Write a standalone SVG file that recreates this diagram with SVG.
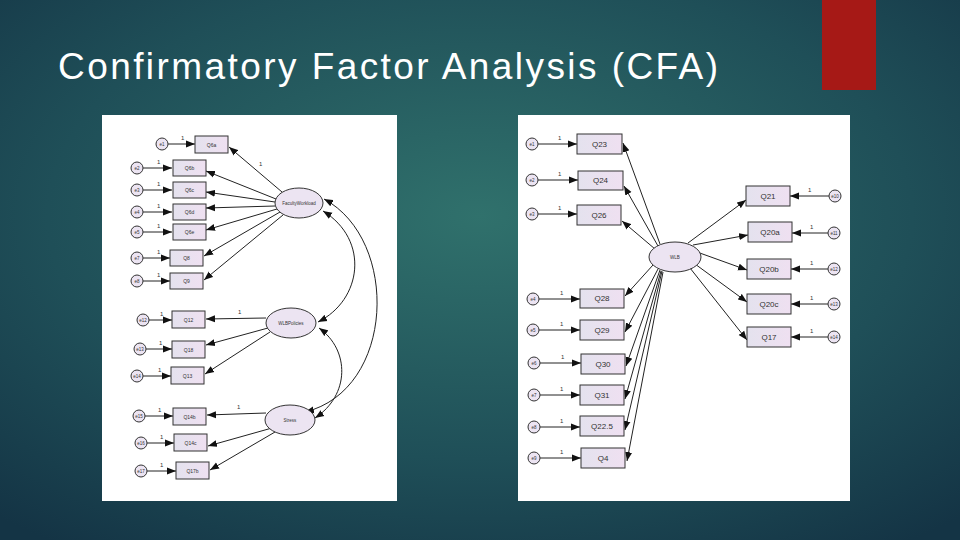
<svg xmlns="http://www.w3.org/2000/svg" width="960" height="540" viewBox="0 0 960 540">
<defs>
<radialGradient id="bg" cx="0.5" cy="0.4" r="0.75">
<stop offset="0" stop-color="#30716c"/>
<stop offset="0.6" stop-color="#1f4f58"/>
<stop offset="1" stop-color="#143445"/>
</radialGradient>
<linearGradient id="bx" x1="0" y1="0" x2="1" y2="0">
<stop offset="0" stop-color="#e4e2ee"/>
<stop offset="1" stop-color="#efe0f1"/>
</linearGradient>
<marker id="a" markerUnits="userSpaceOnUse" markerWidth="10" markerHeight="8" refX="9" refY="4" orient="auto-start-reverse">
<path d="M0,0.5 L9,4 L0,7.5 Z" fill="#111"/>
</marker>
</defs>
<style>
.t{font-family:"Liberation Sans",Arial,sans-serif;fill:#fff}
.b{fill:url(#bx);stroke:#333;stroke-width:1}
.e{fill:#ece4f2;stroke:#333;stroke-width:1}
.l{font-family:"Liberation Sans",Arial,sans-serif;fill:#333;text-anchor:middle;dominant-baseline:central}
.s{font-size:5px}.m{font-size:8px}.n{font-size:4.5px}
.c line,.c path{stroke:#222;stroke-width:1;fill:none;marker-end:url(#a)}
.c path.d{marker-start:url(#a)}
.o{font-family:"Liberation Sans",Arial,sans-serif;fill:#333;font-size:6px}
</style>
<rect width="960" height="540" fill="url(#bg)"/>
<rect x="822" y="0" width="54" height="90" fill="#a61916"/>
<text class="t" x="58" y="79" font-size="37" textLength="660" lengthAdjust="spacing">Confirmatory Factor Analysis (CFA)</text>
<rect x="102" y="115" width="295" height="386" fill="#fff"/>
<rect x="518" y="115" width="332" height="386" fill="#fff"/>

<g class="c" id="connectors">
<line x1="168" y1="144" x2="195" y2="144"/>
<line x1="143" y1="168" x2="172" y2="168"/>
<line x1="143" y1="190" x2="172" y2="190"/>
<line x1="143" y1="212" x2="172" y2="212"/>
<line x1="143" y1="232" x2="172" y2="232"/>
<line x1="143" y1="258" x2="170" y2="258"/>
<line x1="143" y1="281" x2="170" y2="281"/>
<line x1="282" y1="192" x2="229" y2="147"/>
<line x1="276" y1="199" x2="206" y2="171"/>
<line x1="275" y1="202" x2="206" y2="192"/>
<line x1="275" y1="206" x2="206" y2="208"/>
<line x1="277" y1="209" x2="206" y2="230"/>
<line x1="280" y1="212" x2="204" y2="256"/>
<line x1="283" y1="215" x2="204" y2="280"/>
<line x1="149" y1="320" x2="172" y2="320"/>
<line x1="146" y1="349" x2="172" y2="349"/>
<line x1="143" y1="376" x2="171" y2="376"/>
<line x1="266" y1="318" x2="206" y2="319"/>
<line x1="268" y1="328" x2="206" y2="345"/>
<line x1="270" y1="332" x2="205" y2="374"/>
<line x1="145" y1="416" x2="173" y2="416"/>
<line x1="147" y1="443" x2="174" y2="443"/>
<line x1="147" y1="471" x2="176" y2="471"/>
<line x1="266" y1="413" x2="207" y2="415"/>
<line x1="272" y1="428" x2="208" y2="446"/>
<line x1="275" y1="432" x2="210" y2="470"/>
<path class="d" d="M324,199 C400,240 395,390 305,412"/>
<path class="d" d="M323,211 C370,240 362,300 318,322"/>
<path class="d" d="M319,328 C350,350 350,395 315,418"/>

<line x1="538" y1="144" x2="577" y2="144"/>
<line x1="538" y1="180" x2="578" y2="180"/>
<line x1="538" y1="214" x2="577" y2="214"/>
<line x1="538" y1="299" x2="580" y2="299"/>
<line x1="538" y1="330" x2="580" y2="330"/>
<line x1="540" y1="363" x2="581" y2="363"/>
<line x1="540" y1="395" x2="580" y2="395"/>
<line x1="540" y1="427" x2="580" y2="427"/>
<line x1="540" y1="458" x2="581" y2="458"/>
<line x1="829" y1="196" x2="790" y2="196"/>
<line x1="828" y1="233" x2="792" y2="233"/>
<line x1="828" y1="269" x2="791" y2="269"/>
<line x1="828" y1="304" x2="791" y2="304"/>
<line x1="828" y1="337" x2="791" y2="337"/>
<line x1="660" y1="244" x2="623" y2="143"/>
<line x1="658" y1="246" x2="624" y2="186"/>
<line x1="655" y1="249" x2="622" y2="221"/>
<line x1="653" y1="265" x2="625" y2="296"/>
<line x1="658" y1="269" x2="625" y2="332"/>
<line x1="660" y1="270" x2="626" y2="366"/>
<line x1="661" y1="271" x2="625" y2="399"/>
<line x1="662" y1="271" x2="625" y2="430"/>
<line x1="663" y1="272" x2="627" y2="461"/>
<line x1="688" y1="243" x2="746" y2="200"/>
<line x1="693" y1="245" x2="748" y2="235"/>
<line x1="697" y1="252" x2="747" y2="270"/>
<line x1="695" y1="264" x2="747" y2="302"/>
<line x1="690" y1="268" x2="747" y2="340"/>
</g>
<g class="o" id="loadings">
<text x="181" y="140">1</text><text x="157" y="164">1</text><text x="157" y="186">1</text><text x="157" y="208">1</text><text x="157" y="228">1</text><text x="157" y="254">1</text><text x="157" y="277">1</text>
<text x="259" y="166">1</text><text x="238" y="314">1</text><text x="160" y="316">1</text><text x="159" y="345">1</text><text x="158" y="372">1</text>
<text x="237" y="409">1</text><text x="158" y="412">1</text><text x="160" y="439">1</text><text x="160" y="467">1</text>
<text x="558" y="140">1</text><text x="558" y="176">1</text><text x="558" y="210">1</text><text x="560" y="295">1</text><text x="560" y="326">1</text><text x="561" y="359">1</text><text x="560" y="391">1</text><text x="560" y="423">1</text><text x="560" y="454">1</text>
<text x="808" y="192">1</text><text x="810" y="229">1</text><text x="810" y="265">1</text><text x="810" y="300">1</text><text x="810" y="333">1</text>
</g>

<g id="FacultyWorkload"><ellipse class="e" cx="299" cy="203" rx="24" ry="15"/><text class="l n" x="299" y="203">FacultyWorkload</text></g>
<g id="WLBPolicies"><ellipse class="e" cx="291" cy="323" rx="25" ry="15"/><text class="l n" x="291" y="323">WLBPolicies</text></g>
<g id="Stress"><ellipse class="e" cx="290" cy="420" rx="25" ry="15"/><text class="l n" x="290" y="420">Stress</text></g>
<g id="Q6a"><rect class="b" x="195" y="136" width="33" height="17"/><text class="l s" x="211.5" y="144.5">Q6a</text></g>
<g id="Q6b"><rect class="b" x="173" y="160" width="33" height="16"/><text class="l s" x="189.5" y="168">Q6b</text></g>
<g id="Q6c"><rect class="b" x="173" y="182" width="33" height="16"/><text class="l s" x="189.5" y="190">Q6c</text></g>
<g id="Q6d"><rect class="b" x="173" y="204" width="33" height="16"/><text class="l s" x="189.5" y="212">Q6d</text></g>
<g id="Q6e"><rect class="b" x="173" y="224" width="33" height="16"/><text class="l s" x="189.5" y="232">Q6e</text></g>
<g id="Q8"><rect class="b" x="170" y="250" width="33" height="16"/><text class="l s" x="186.5" y="258">Q8</text></g>
<g id="Q9"><rect class="b" x="170" y="273" width="33" height="16"/><text class="l s" x="186.5" y="281">Q9</text></g>
<g id="Q12"><rect class="b" x="172" y="311" width="33" height="17"/><text class="l s" x="188.5" y="319.5">Q12</text></g>
<g id="Q18"><rect class="b" x="172" y="341" width="33" height="17"/><text class="l s" x="188.5" y="349.5">Q18</text></g>
<g id="Q13"><rect class="b" x="171" y="367" width="33" height="17"/><text class="l s" x="187.5" y="375.5">Q13</text></g>
<g id="Q14b"><rect class="b" x="173" y="408" width="33" height="17"/><text class="l s" x="189.5" y="416.5">Q14b</text></g>
<g id="Q14c"><rect class="b" x="174" y="434" width="33" height="17"/><text class="l s" x="190.5" y="442.5">Q14c</text></g>
<g id="Q17b"><rect class="b" x="176" y="462" width="33" height="17"/><text class="l s" x="192.5" y="470.5">Q17b</text></g>
<g id="e1"><circle class="e" cx="162" cy="144" r="6"/><text class="l n" x="162" y="144">e1</text></g>
<g id="e2"><circle class="e" cx="137" cy="168" r="6"/><text class="l n" x="137" y="168">e2</text></g>
<g id="e3"><circle class="e" cx="137" cy="190" r="6"/><text class="l n" x="137" y="190">e3</text></g>
<g id="e4"><circle class="e" cx="137" cy="212" r="6"/><text class="l n" x="137" y="212">e4</text></g>
<g id="e5"><circle class="e" cx="137" cy="232" r="6"/><text class="l n" x="137" y="232">e5</text></g>
<g id="e7"><circle class="e" cx="137" cy="258" r="6"/><text class="l n" x="137" y="258">e7</text></g>
<g id="e8"><circle class="e" cx="137" cy="281" r="6"/><text class="l n" x="137" y="281">e8</text></g>
<g id="e12"><circle class="e" cx="143" cy="320" r="6"/><text class="l n" x="143" y="320">e12</text></g>
<g id="e13"><circle class="e" cx="140" cy="349" r="6"/><text class="l n" x="140" y="349">e13</text></g>
<g id="e14"><circle class="e" cx="137" cy="376" r="6"/><text class="l n" x="137" y="376">e14</text></g>
<g id="e15"><circle class="e" cx="139" cy="416" r="6"/><text class="l n" x="139" y="416">e15</text></g>
<g id="e16"><circle class="e" cx="141" cy="443" r="6"/><text class="l n" x="141" y="443">e16</text></g>
<g id="e17"><circle class="e" cx="141" cy="471" r="6"/><text class="l n" x="141" y="471">e17</text></g>

<g id="WLB"><ellipse class="e" cx="675" cy="257" rx="26" ry="15"/><text class="l n" x="675" y="257">WLB</text></g>
<g id="Q23"><rect class="b" x="577" y="134" width="45" height="20"/><text class="l m" x="599.5" y="144">Q23</text></g>
<g id="Q24"><rect class="b" x="578" y="171" width="45" height="19"/><text class="l m" x="600.5" y="180.5">Q24</text></g>
<g id="Q26"><rect class="b" x="577" y="205" width="44" height="20"/><text class="l m" x="599" y="215">Q26</text></g>
<g id="Q28"><rect class="b" x="580" y="289" width="44" height="19"/><text class="l m" x="602" y="298.5">Q28</text></g>
<g id="Q29"><rect class="b" x="580" y="320" width="44" height="20"/><text class="l m" x="602" y="330">Q29</text></g>
<g id="Q30"><rect class="b" x="581" y="354" width="44" height="20"/><text class="l m" x="603" y="364">Q30</text></g>
<g id="Q31"><rect class="b" x="580" y="385" width="44" height="20"/><text class="l m" x="602" y="395">Q31</text></g>
<g id="Q22.5"><rect class="b" x="580" y="416" width="44" height="20"/><text class="l m" x="602" y="426">Q22.5</text></g>
<g id="Q4"><rect class="b" x="581" y="448" width="44" height="20"/><text class="l m" x="603" y="458">Q4</text></g>
<g id="Q21"><rect class="b" x="746" y="186" width="44" height="20"/><text class="l m" x="768" y="196">Q21</text></g>
<g id="Q20a"><rect class="b" x="748" y="222" width="44" height="20"/><text class="l m" x="770" y="232">Q20a</text></g>
<g id="Q20b"><rect class="b" x="747" y="259" width="44" height="20"/><text class="l m" x="769" y="269">Q20b</text></g>
<g id="Q20c"><rect class="b" x="747" y="294" width="44" height="20"/><text class="l m" x="769" y="304">Q20c</text></g>
<g id="Q17"><rect class="b" x="747" y="327" width="44" height="20"/><text class="l m" x="769" y="337">Q17</text></g>
<g id="re1"><circle class="e" cx="532" cy="144" r="6"/><text class="l n" x="532" y="144">e1</text></g>
<g id="re2"><circle class="e" cx="532" cy="180" r="6"/><text class="l n" x="532" y="180">e2</text></g>
<g id="re3"><circle class="e" cx="532" cy="214" r="6"/><text class="l n" x="532" y="214">e3</text></g>
<g id="re4"><circle class="e" cx="533" cy="299" r="6"/><text class="l n" x="533" y="299">e4</text></g>
<g id="re5"><circle class="e" cx="533" cy="330" r="6"/><text class="l n" x="533" y="330">e5</text></g>
<g id="re6"><circle class="e" cx="534" cy="363" r="6"/><text class="l n" x="534" y="363">e6</text></g>
<g id="re7"><circle class="e" cx="534" cy="395" r="6"/><text class="l n" x="534" y="395">e7</text></g>
<g id="re8"><circle class="e" cx="534" cy="427" r="6"/><text class="l n" x="534" y="427">e8</text></g>
<g id="re9"><circle class="e" cx="534" cy="458" r="6"/><text class="l n" x="534" y="458">e9</text></g>
<g id="re10"><circle class="e" cx="835" cy="196" r="6"/><text class="l n" x="835" y="196">e10</text></g>
<g id="re11"><circle class="e" cx="834" cy="233" r="6"/><text class="l n" x="834" y="233">e11</text></g>
<g id="re12"><circle class="e" cx="834" cy="269" r="6"/><text class="l n" x="834" y="269">e12</text></g>
<g id="re13"><circle class="e" cx="834" cy="304" r="6"/><text class="l n" x="834" y="304">e13</text></g>
<g id="re14"><circle class="e" cx="834" cy="337" r="6"/><text class="l n" x="834" y="337">e14</text></g>
</svg>
